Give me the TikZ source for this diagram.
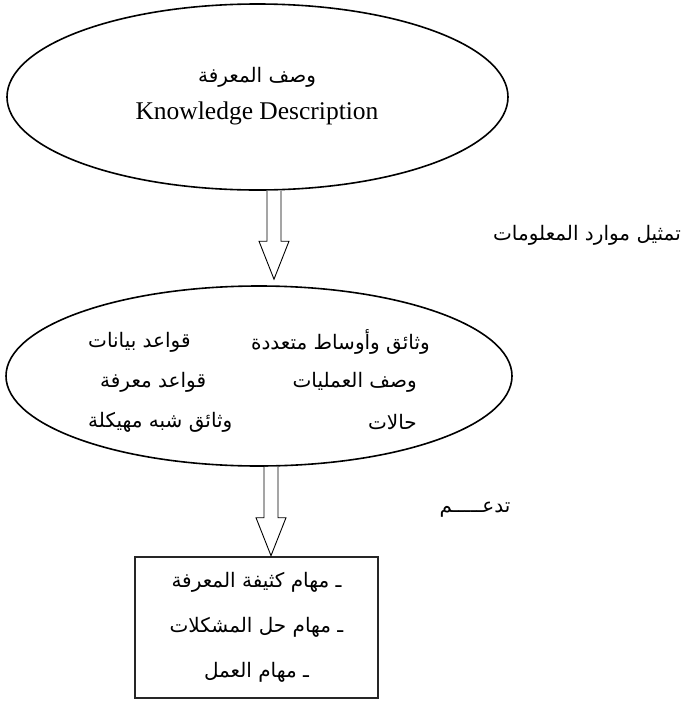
\documentclass[tikz,border=0pt]{standalone}
\usepackage{fontspec}
\setmainfont{Liberation Serif}
\newfontfamily\arabicfont[Script=Arabic]{DejaVu Sans}
\TeXXeTstate=1
\usetikzlibrary{shapes.geometric,calc}

\tikzset{
  bubble/.style={ellipse, draw, line width=1.6pt, inner sep=0pt},
  taskbox/.style={rectangle, draw=black!85, line width=2.6pt, inner sep=0pt, align=center},
  hollowarrow/.style={draw, line width=0.9pt, fill=white, line join=miter},
  artext/.style={font=\arabicfont\fontsize{20}{24}\selectfont, inner sep=0pt},
  entext/.style={font=\fontsize{25.5}{30}\selectfont, inner sep=0pt},
}

% hollow block arrow from #1 down to #2
\newcommand{\blockarrow}[2]{%
  \draw[hollowarrow] let \p1=(#1), \p2=(#2) in
    (\x1-7pt,\y1) -- (\x1-7pt,\y2-38pt) -- (\x1-15pt,\y2-38pt) -- (\x1,\y2)
    -- (\x1+15pt,\y2-38pt) -- (\x1+7pt,\y2-38pt) -- (\x1+7pt,\y1) ;}

\begin{document}
\begin{tikzpicture}[x=1pt,y=1pt,yscale=-1,xscale=1]
\useasboundingbox (0,0) rectangle (691,702);

%Shape: Ellipse [knowledge description]
\node[bubble, minimum width=501pt, minimum height=186pt] (kdesc) at (257.5,97) {};
\node[artext] (kdesc-ar) at (257,77) {\beginR وصف المعرفة\endR};
\node[entext] (kdesc-en) at (257,113) {Knowledge Description};

%Shape: Ellipse [information resources]
\node[bubble, minimum width=506pt, minimum height=180pt] (res) at (259,376) {};
\node[artext, anchor=east] (res-r1) at (430,342) {\beginR وثائق وأوساط متعددة\endR};
\node[artext, anchor=west] (res-l1) at (88,342) {\beginR قواعد بيانات\endR};
\node[artext, anchor=east] (res-r2) at (417,382) {\beginR وصف العمليات\endR};
\node[artext, anchor=west] (res-l2) at (100,382) {\beginR قواعد معرفة\endR};
\node[artext, anchor=east] (res-r3) at (417,422) {\beginR حالات\endR};
\node[artext, anchor=west] (res-l3) at (88,422) {\beginR وثائق شبه مهيكلة\endR};

%Shape: Rectangle [tasks]
\node[taskbox, minimum width=243pt, minimum height=141pt,
      font=\arabicfont\fontsize{20}{45}\selectfont] (tasks) at (256.5,627.5)
  {\beginR ـ مهام كثيفة المعرفة\endR\\ \beginR ـ مهام حل المشكلات\endR\\ \beginR ـ مهام العمل\endR};

%Labels
\node[artext] (represent) at (587,235) {\beginR تمثيل موارد المعلومات\endR};
\node[artext] (supports) at (475,510) {\beginR تدعـــــم\endR};

%Block arrows
\coordinate (a1s) at ([xshift=16.5pt]kdesc.south);
\coordinate (a1e) at ([yshift=-6pt]a1s |- res.north);
\coordinate (a2s) at ([xshift=12pt]res.south);
\blockarrow{a1s}{a1e}
\blockarrow{a2s}{a2s |- tasks.north}

\end{tikzpicture}
\end{document}
